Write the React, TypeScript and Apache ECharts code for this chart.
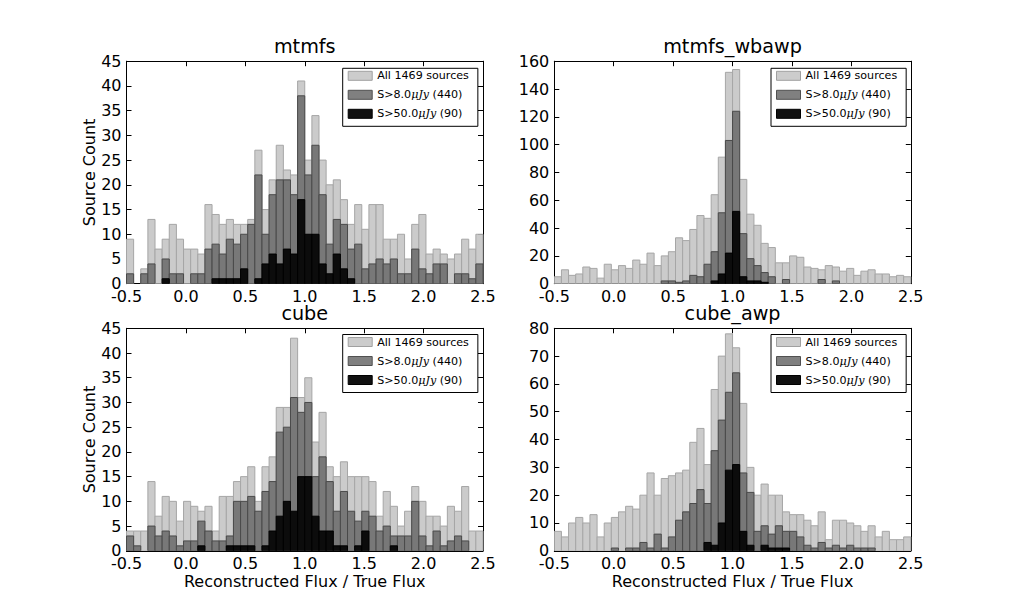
import React, { useEffect, useRef } from "react";
import * as echarts from "echarts";

// Histogram binning (x values of the bin edges)
const BIN_START = -0.5;
const BIN_WIDTH = 0.06;

const TITLES = ["mtmfs", "mtmfs_wbawp", "cube", "cube_awp"];
const LEGEND_NAMES = ["All 1469 sources", "S>8.0μJy (440)", "S>50.0μJy (90)"];
const X_LABEL = "Reconstructed Flux / True Flux";
const Y_LABEL = "Source Count";

// mtmfs
const MTMFS_ALL = [9, 0, 3, 13, 7, 9, 12, 9, 7, 7, 6, 16, 14, 12, 13, 12, 12, 13, 27, 15, 21, 28, 23, 22, 41, 25, 34, 25, 20, 21, 17, 12, 16, 11, 16, 16, 9, 9, 10, 5, 12, 14, 6, 7, 6, 5, 6, 9, 7, 10];
const MTMFS_S8 = [2, 0, 2, 4, 0, 5, 2, 2, 0, 2, 2, 7, 8, 6, 9, 8, 10, 12, 22, 10, 18, 21, 21, 18, 38, 22, 28, 18, 8, 13, 12, 7, 8, 3, 4, 5, 4, 5, 2, 2, 7, 3, 2, 4, 4, 0, 2, 2, 1, 4];
const MTMFS_S50 = [0, 0, 0, 0, 0, 1, 0, 0, 0, 0, 0, 0, 1, 1, 1, 1, 3, 0, 1, 4, 6, 4, 7, 6, 17, 10, 10, 4, 2, 6, 3, 1, 0, 0, 0, 0, 0, 0, 0, 0, 0, 0, 0, 0, 0, 0, 0, 0, 0, 0];

// mtmfs_wbawp
const WBAWP_ALL = [5, 10, 6, 7, 12, 11, 4, 14, 10, 13, 11, 17, 14, 22, 13, 20, 23, 33, 31, 39, 49, 47, 64, 91, 152, 154, 75, 50, 42, 29, 26, 15, 15, 20, 19, 12, 11, 10, 13, 12, 9, 11, 6, 9, 10, 7, 7, 5, 6, 5];
const WBAWP_S8 = [0, 0, 0, 0, 0, 0, 0, 0, 0, 0, 0, 0, 0, 0, 0, 2, 2, 1, 2, 6, 5, 14, 23, 51, 103, 124, 36, 18, 13, 8, 5, 0, 3, 0, 0, 0, 0, 3, 0, 2, 0, 0, 0, 0, 0, 0, 0, 0, 0, 0];
const WBAWP_S50 = [0, 0, 0, 0, 0, 0, 0, 0, 0, 0, 0, 0, 0, 0, 0, 0, 0, 0, 0, 0, 0, 0, 2, 7, 22, 52, 5, 2, 2, 1, 0, 0, 0, 0, 0, 0, 0, 0, 0, 0, 0, 0, 0, 0, 0, 0, 0, 0, 0, 0];

// cube
const CUBE_ALL = [4, 4, 4, 14, 7, 11, 10, 6, 10, 9, 8, 9, 4, 11, 11, 14, 15, 17, 10, 17, 19, 29, 29, 43, 31, 35, 22, 28, 17, 15, 18, 15, 15, 15, 14, 7, 12, 9, 5, 8, 13, 10, 7, 7, 5, 9, 8, 13, 4, 4];
const CUBE_S8 = [3, 1, 0, 5, 3, 4, 3, 1, 2, 2, 6, 4, 2, 2, 3, 10, 10, 11, 8, 12, 14, 24, 25, 31, 28, 30, 15, 19, 14, 8, 12, 8, 6, 8, 7, 4, 5, 3, 3, 3, 10, 3, 1, 4, 1, 2, 3, 2, 0, 0];
const CUBE_S50 = [0, 0, 0, 0, 0, 0, 0, 0, 0, 0, 1, 0, 0, 0, 1, 1, 1, 1, 0, 1, 4, 7, 10, 8, 15, 15, 7, 4, 4, 1, 1, 0, 1, 4, 0, 0, 0, 1, 0, 0, 0, 0, 0, 0, 0, 0, 0, 0, 0, 0];

// cube_awp
const CUBEAWP_ALL = [7, 5, 10, 12, 10, 13, 5, 10, 12, 14, 16, 15, 20, 28, 20, 26, 27, 28, 29, 39, 44, 31, 58, 70, 78, 73, 53, 30, 20, 24, 20, 20, 14, 13, 13, 11, 9, 14, 4, 11, 11, 10, 9, 7, 9, 5, 7, 4, 4, 5];
const CUBEAWP_S8 = [0, 0, 0, 0, 0, 0, 0, 0, 1, 0, 1, 1, 3, 1, 6, 1, 5, 11, 14, 17, 22, 17, 36, 47, 57, 64, 28, 21, 7, 9, 6, 9, 7, 7, 5, 2, 1, 3, 1, 2, 1, 2, 1, 1, 1, 0, 0, 0, 0, 0];
const CUBEAWP_S50 = [0, 0, 0, 0, 0, 0, 0, 0, 0, 0, 0, 0, 0, 0, 0, 0, 0, 0, 0, 0, 0, 3, 2, 10, 29, 31, 7, 2, 0, 2, 1, 1, 1, 0, 0, 0, 0, 0, 0, 0, 0, 0, 0, 0, 0, 0, 0, 0, 0, 0];

const X_MIN = -0.5;
const X_MAX = 2.5;
const X_STEP = 0.5;
const Y_MAX = [45, 160, 45, 80];
const Y_STEP = [5, 20, 5, 10];

const PANEL_DATA = [
  [MTMFS_ALL, MTMFS_S8, MTMFS_S50],
  [WBAWP_ALL, WBAWP_S8, WBAWP_S50],
  [CUBE_ALL, CUBE_S8, CUBE_S50],
  [CUBEAWP_ALL, CUBEAWP_S8, CUBEAWP_S50],
];

const FONT = "'DejaVu Sans', 'Liberation Sans', sans-serif";

// layout (pixels)
const COL_LEFT = [126.5, 554.3];
const ROW_TOP = [61.2, 328.3];
const PW = 356.5;
const PH = 222.5;

const BAR_STYLES = [
  { fill: "#cbcbcb", stroke: "#a6a6a6" },
  { fill: "#787878", stroke: "#4a4a4a" },
  { fill: "#0c0c0c", stroke: "#000000" },
];
const LEGEND_STYLES = [
  { color: "#cccccc", borderColor: "#a0a0a0", borderWidth: 1 },
  { color: "#808080", borderColor: "#505050", borderWidth: 1 },
  { color: "#111111", borderColor: "#000000", borderWidth: 1 },
];

function buildOption() {
  const grid: any[] = [];
  const xAxis: any[] = [];
  const yAxis: any[] = [];
  const series: any[] = [];
  const legend: any[] = [];
  const title: any[] = [];

  for (let i = 0; i < 4; i++) {
    const col = i % 2;
    const row = Math.floor(i / 2);
    const left = COL_LEFT[col];
    const top = ROW_TOP[row];
    grid.push({ left, top, width: PW, height: PH, containLabel: false, show: false });

    const tick = { show: true, inside: true, length: 5, lineStyle: { color: "#000", width: 1 } };
    const line = { show: true, onZero: false, lineStyle: { color: "#000", width: 1 } };
    const labelStyle = { color: "#000", fontSize: 16, fontFamily: FONT };

    xAxis.push({
      gridIndex: i,
      type: "value",
      position: "bottom",
      min: X_MIN,
      max: X_MAX,
      interval: X_STEP,
      axisLine: line,
      axisTick: tick,
      splitLine: { show: false },
      axisLabel: {
        ...labelStyle,
        margin: 5,
        showMinLabel: true,
        showMaxLabel: true,
        formatter: (v: number) => v.toFixed(1),
      },
      name: row === 1 ? X_LABEL : "",
      nameLocation: "middle",
      nameGap: 23,
      nameTextStyle: { color: "#000", fontSize: 16, fontFamily: FONT },
    });
    xAxis.push({
      gridIndex: i,
      type: "value",
      position: "top",
      min: X_MIN,
      max: X_MAX,
      interval: X_STEP,
      axisLine: line,
      axisTick: tick,
      splitLine: { show: false },
      axisLabel: { show: false },
    });
    yAxis.push({
      gridIndex: i,
      type: "value",
      position: "left",
      min: 0,
      max: Y_MAX[i],
      interval: Y_STEP[i],
      axisLine: line,
      axisTick: tick,
      splitLine: { show: false },
      axisLabel: { ...labelStyle, margin: 5, showMinLabel: true, showMaxLabel: true },
      name: col === 0 ? Y_LABEL : "",
      nameLocation: "middle",
      nameRotate: 90,
      nameGap: 28,
      nameTextStyle: { color: "#000", fontSize: 16, fontFamily: FONT },
    });
    yAxis.push({
      gridIndex: i,
      type: "value",
      position: "right",
      min: 0,
      max: Y_MAX[i],
      interval: Y_STEP[i],
      axisLine: line,
      axisTick: tick,
      splitLine: { show: false },
      axisLabel: { show: false },
    });

    PANEL_DATA[i].forEach((counts, j) => {
      const st = BAR_STYLES[j];
      series.push({
        type: "custom",
        name: LEGEND_NAMES[j],
        xAxisIndex: 2 * i,
        yAxisIndex: 2 * i,
        silent: true,
        clip: true,
        z: 2 + j,
        itemStyle: { color: st.fill, borderColor: st.stroke, borderWidth: 1 },
        encode: { x: [0, 1], y: 2 },
        data: counts.map((c, k) => [BIN_START + k * BIN_WIDTH, BIN_START + (k + 1) * BIN_WIDTH, c]),
        renderItem: (_params: any, api: any) => {
          const v = api.value(2);
          if (!v) return null;
          const p0 = api.coord([api.value(0), v]);
          const p1 = api.coord([api.value(1), 0]);
          return {
            type: "rect",
            shape: { x: p0[0], y: p0[1], width: p1[0] - p0[0], height: p1[1] - p0[1] },
            style: { fill: st.fill, stroke: st.stroke, lineWidth: 1 },
          };
        },
      });
    });

    legend.push({
      show: true,
      orient: "vertical",
      left: col === 0 ? 342.7 : 771,
      top: row === 0 ? 68.3 : 334.5,
      data: LEGEND_NAMES.map((n, j) => ({ name: n, icon: "rect", itemStyle: LEGEND_STYLES[j] })),
      itemWidth: 24,
      itemHeight: 9,
      itemGap: 6,
      padding: [1, 9, 6, 5],
      borderColor: "#000",
      borderWidth: 1,
      borderRadius: 0,
      backgroundColor: "#fff",
      selectedMode: false,
      textStyle: {
        color: "#000",
        fontSize: 11.1,
        lineHeight: 13,
        fontFamily: FONT,
        rich: {
          n: { fontSize: 11.1, lineHeight: 13, fontFamily: FONT, color: "#000" },
          i: { fontSize: 11.1, lineHeight: 13, fontFamily: "'DejaVu Serif', serif", fontStyle: "italic", color: "#000" },
        },
      },
      formatter: (name: string) => {
        const m = name.match(/^(S>[\d.]+)(μJy)(.*)$/);
        if (!m) return name;
        return `{n|${m[1]}}{i|${m[2]}}{n|${m[3]}}`;
      },
    });

    title.push({
      text: TITLES[i],
      left: left + PW / 2,
      top: top - 24,
      textAlign: "center",
      padding: 0,
      textStyle: { color: "#000", fontSize: 19.2, fontWeight: "normal", fontFamily: FONT },
    });
  }

  return {
    animation: false,
    backgroundColor: "#fff",
    textStyle: { fontFamily: FONT },
    title,
    legend,
    grid,
    xAxis,
    yAxis,
    series,
  };
}

export default function App() {
  const ref = useRef<HTMLDivElement>(null);
  useEffect(() => {
    if (!ref.current) return;
    const chart = echarts.init(ref.current, null, { renderer: "svg" });
    chart.setOption(buildOption() as any);
    return () => chart.dispose();
  }, []);
  return (
    <div
      ref={ref}
      style={{ position: "fixed", left: 0, top: 0, width: 1012, height: 612, background: "#fff" }}
    />
  );
}
